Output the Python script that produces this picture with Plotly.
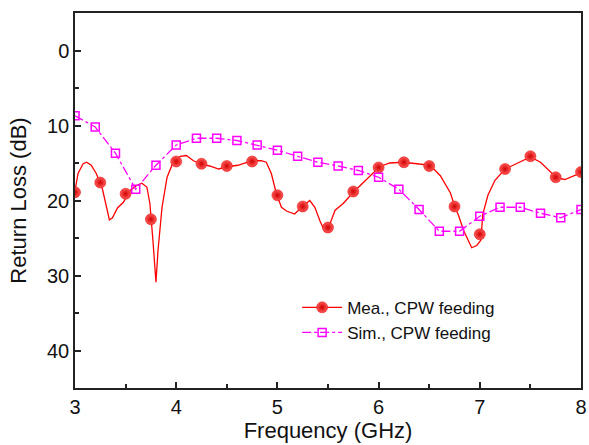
import plotly.graph_objects as go

# Measured (dense line)
mea_f = [3.00, 3.03, 3.08, 3.115, 3.16, 3.21, 3.27, 3.34, 3.37, 3.42, 3.48, 3.54, 3.61, 3.66, 3.71,
         3.74, 3.77, 3.80, 3.82, 3.86, 3.91, 3.97, 4.04, 4.10, 4.17, 4.24, 4.33, 4.42, 4.50, 4.61,
         4.75, 4.84, 4.89, 4.94, 4.99, 5.04, 5.09, 5.17, 5.24, 5.32, 5.37, 5.42, 5.47, 5.52, 5.57,
         5.65, 5.75, 5.85, 5.95, 6.01, 6.11, 6.24, 6.38, 6.51, 6.61, 6.71, 6.75, 6.79, 6.84, 6.92,
         6.97, 7.01, 7.03, 7.08, 7.15, 7.25, 7.36, 7.50, 7.60, 7.70, 7.76, 7.84, 7.92, 8.00]
mea_db = [18.7, 16.4, 15.1, 14.9, 15.3, 16.4, 18.4, 22.6, 22.3, 21.0, 20.2, 18.7, 18.0, 17.7, 18.2,
          20.4, 25.3, 30.9, 26.7, 20.9, 16.9, 14.9, 14.1, 14.0, 14.7, 15.1, 15.4, 15.8, 15.5, 15.3,
          14.7, 14.7, 14.9, 16.4, 19.1, 20.9, 21.4, 21.8, 20.9, 20.0, 20.9, 22.7, 24.2, 23.1, 21.3,
          20.4, 18.9, 17.6, 16.2, 15.5, 15.0, 14.9, 15.1, 15.3, 16.7, 19.0, 20.7, 22.0, 24.0, 26.3,
          26.0, 25.3, 21.8, 19.3, 17.3, 15.8, 15.1, 14.2, 14.9, 16.2, 17.0, 17.2, 16.7, 16.3]

# Measured (symbols)
mea_sym_f = [3.00, 3.25, 3.50, 3.75, 4.00, 4.25, 4.50, 4.75, 5.00, 5.25, 5.50, 5.75, 6.00, 6.25,
             6.50, 6.75, 7.00, 7.25, 7.50, 7.75, 8.00]
mea_sym_db = [18.9, 17.6, 19.1, 22.5, 14.8, 15.1, 15.4, 14.8, 19.3, 20.8, 23.6, 18.8, 15.6, 14.9,
              15.4, 20.8, 24.5, 15.8, 14.1, 16.9, 16.2]

# Simulated
sim_f = [3.0, 3.2, 3.4, 3.6, 3.8, 4.0, 4.2, 4.4, 4.6, 4.8, 5.0, 5.2, 5.4, 5.6, 5.8, 6.0, 6.2,
         6.4, 6.6, 6.8, 7.0, 7.2, 7.4, 7.6, 7.8, 8.0]
sim_db = [8.7, 10.2, 13.7, 18.5, 15.3, 12.6, 11.7, 11.7, 12.0, 12.6, 13.3, 14.1, 14.9, 15.4,
          16.0, 16.9, 18.5, 21.2, 24.1, 24.1, 22.1, 20.9, 20.9, 21.7, 22.3, 21.2]

x_ticks = [3, 4, 5, 6, 7, 8]
y_ticks = [0, 10, 20, 30, 40]

RED = "#ff0000"
MAG = "#ff00ff"
FONT = "Liberation Sans, Arial, sans-serif"

fig = go.Figure()
fig.add_trace(go.Scatter(x=mea_f, y=mea_db, mode="lines", line=dict(color=RED, width=1.3),
                         showlegend=False, hoverinfo="skip"))
red_marker = dict(symbol="circle", size=11, color="#ff5a5a",
                  gradient=dict(type="radial", color="#d00000"),
                  line=dict(color="#e00000", width=0.5))
fig.add_trace(go.Scatter(x=mea_sym_f, y=mea_sym_db, mode="markers", marker=red_marker,
                         showlegend=False))
fig.add_trace(go.Scatter(x=[None], y=[None], mode="lines+markers", name="Mea., CPW feeding",
                         line=dict(color=RED, width=1.3), marker=red_marker))
fig.add_trace(go.Scatter(x=sim_f, y=sim_db, mode="lines+markers", name="Sim., CPW feeding",
                         line=dict(color=MAG, width=1.3, dash="dashdot"),
                         marker=dict(symbol="square-open", size=8, color=MAG,
                                     line=dict(color=MAG, width=1.5))))

axis_common = dict(showline=True, linecolor="#222222", linewidth=1.5, mirror=True,
                   ticks="inside", ticklen=6, tickwidth=1.5, tickcolor="#222222",
                   showgrid=False, zeroline=False, automargin=False,
                   tickfont=dict(family=FONT, size=20, color="#111111"),
                   title_font=dict(family=FONT, size=22, color="#111111"))

fig.update_xaxes(range=[3, 8], tickvals=x_ticks, ticktext=[str(v) for v in x_ticks],
                 minor=dict(ticks="inside", dtick=0.5, ticklen=4, tickwidth=1.5, tickcolor="#222222"),
                 title_text="Frequency (GHz)", title_standoff=2, **axis_common)
fig.update_yaxes(range=[45, -5], tickvals=y_ticks, ticktext=[str(v) for v in y_ticks],
                 minor=dict(ticks="inside", dtick=5, ticklen=4, tickwidth=1.5, tickcolor="#222222"),
                 title_text="Return Loss (dB)", title_standoff=14, **axis_common)

fig.update_layout(
    width=589, height=445,
    margin=dict(l=75, r=8, t=13, b=57),
    paper_bgcolor="white", plot_bgcolor="white",
    font=dict(family=FONT, color="#111111"),
    legend=dict(x=0.439, y=0.262, xanchor="left", yanchor="top",
                bgcolor="rgba(0,0,0,0)", font=dict(size=17), itemwidth=40,
                tracegroupgap=0),
)

fig.write_html("out.html", config={"displayModeBar": False},
               post_script="document.body.style.margin='0px';")
